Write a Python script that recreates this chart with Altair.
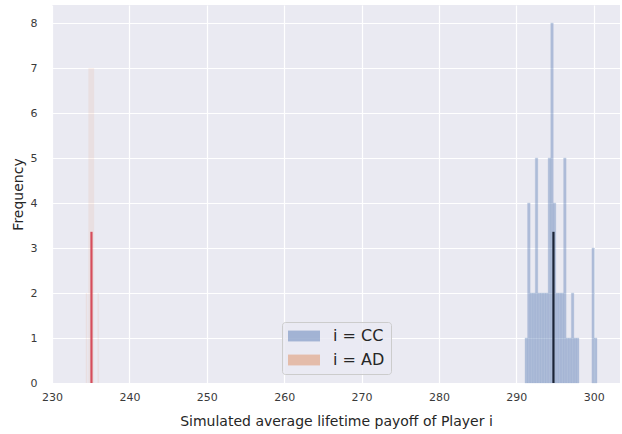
import altair as alt
import pandas as pd

# Simulated average lifetime payoffs, histogram for Player CC (bin edges and counts)
cc_edges = [291.12, 291.45, 291.79, 292.12, 292.45, 292.78, 293.12, 293.45, 293.78, 294.11,
            294.45, 294.78, 295.11, 295.44, 295.78, 296.11, 296.44, 296.77, 297.11, 297.44,
            297.77, 298.10, 298.44, 298.77, 299.10, 299.43, 299.77, 300.10, 300.43]
cc_counts = [1, 4, 2, 2, 5, 2, 2, 2, 2, 5, 8, 4, 2, 2, 2, 5, 1, 1, 2, 1, 1,
             0, 0, 0, 0, 0, 3, 1]

# Histogram for Player AD
ad_start = [234.36, 234.70, 235.88]
ad_end = [234.56, 235.45, 236.08]
ad_counts = [2, 7, 2]

# Sample means, drawn as vertical lines
cc_mean = 294.8
ad_mean = 235.1
mean_line_top = 3.36

series_names = ["i = CC", "i = AD"]
series_colors = ["#4C72B0", "#DD8452"]
x_ticks = [230, 240, 250, 260, 270, 280, 290, 300]
y_ticks = [0, 1, 2, 3, 4, 5, 6, 7, 8]

cc_df = pd.DataFrame({"start": cc_edges[:-1], "end": cc_edges[1:],
                      "count": cc_counts, "series": series_names[0]})
cc_df = cc_df[cc_df["count"] > 0]
cc_df["base"] = 0
ad_df = pd.DataFrame({"start": ad_start, "end": ad_end,
                      "count": ad_counts, "series": series_names[1]})
ad_df["base"] = 0
cc_mean_df = pd.DataFrame({"mean": [cc_mean], "base": [0], "top": [mean_line_top]})
ad_mean_df = pd.DataFrame({"mean": [ad_mean], "base": [0], "top": [mean_line_top]})

x_scale = alt.Scale(domain=[230.0, 303.4], nice=False, zero=False)
y_scale = alt.Scale(domain=[0, 8.4], nice=False)
color_scale = alt.Scale(domain=series_names, range=series_colors)

x_axis = alt.Axis(values=x_ticks, format="d", grid=True, labelFlush=False,
                  title="Simulated average lifetime payoff of Player i",
                  labelPadding=8, titlePadding=12)
y_axis = alt.Axis(values=y_ticks, format="d", grid=True, labelFlush=False,
                  title="Frequency", labelPadding=15, titlePadding=5)

# wide swatch: the path spans 32 px while the layout reserves 16 px for it
legend = alt.Legend(
    title=None, orient="none", legendX=230, legendY=317,
    symbolType="M-1,-0.68H3V0.68H-1Z", symbolSize=256,
    symbolOpacity=0.45, symbolStrokeWidth=0,
    labelFontSize=16, labelFont="DejaVu Sans", labelColor="#262626",
    labelOffset=29, rowPadding=8, padding=6,
    fillColor="rgba(234,234,242,0.8)", strokeColor="#cccccc", cornerRadius=3,
)

cc_bars = alt.Chart(cc_df).mark_bar(
    opacity=0.38, stroke="#4C72B0", strokeWidth=0.6, strokeOpacity=0.5
).encode(
    x=alt.X("start:Q", scale=x_scale, axis=x_axis),
    x2="end:Q",
    y=alt.Y("count:Q", scale=y_scale, axis=y_axis),
    y2="base:Q",
    color=alt.Color("series:N", scale=color_scale, legend=legend),
)

ad_bars = alt.Chart(ad_df).mark_bar(opacity=0.1).encode(
    x=alt.X("start:Q", scale=x_scale),
    x2="end:Q",
    y=alt.Y("count:Q", scale=y_scale),
    y2="base:Q",
    color=alt.Color("series:N", scale=color_scale, legend=legend),
)

cc_line = alt.Chart(cc_mean_df).mark_rule(color="#1b2436", strokeWidth=2.2).encode(
    x=alt.X("mean:Q", scale=x_scale),
    y=alt.Y("base:Q", scale=y_scale),
    y2="top:Q",
)

ad_line = alt.Chart(ad_mean_df).mark_rule(color="#D64D5B", strokeWidth=2.2).encode(
    x=alt.X("mean:Q", scale=x_scale),
    y=alt.Y("base:Q", scale=y_scale),
    y2="top:Q",
)

chart = alt.layer(ad_bars, cc_bars, ad_line, cc_line).properties(
    width=568, height=378,
    autosize=alt.AutoSizeParams(type="none"),
    padding={"left": 52, "top": 5, "right": 2, "bottom": 51},
    background="white",
).configure_view(
    fill="#EAEAF2", strokeWidth=0,
).configure_axis(
    domain=False, ticks=False,
    gridColor="white", gridWidth=1.2,
    labelFont="DejaVu Sans", labelFontSize=11, labelColor="#3a3a3a",
    titleFont="DejaVu Sans", titleFontSize=14, titleFontWeight="normal",
    titleColor="#262626",
)

chart.save("out.html", embed_options={"renderer": "svg", "actions": False})
